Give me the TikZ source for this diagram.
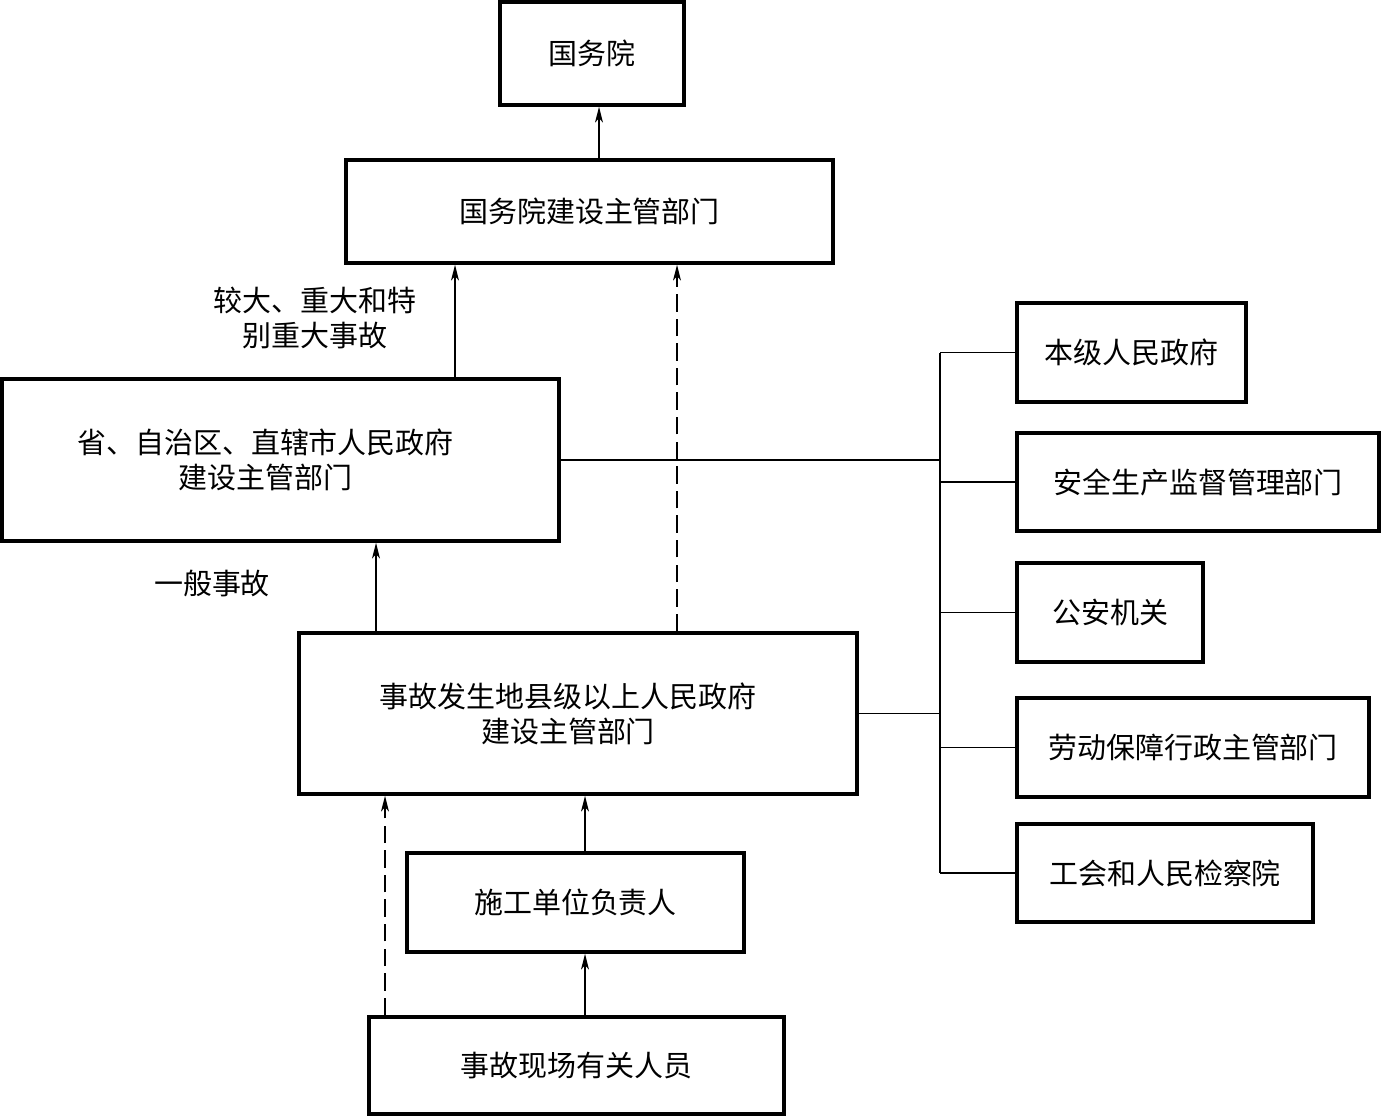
\documentclass[tikz,border=0pt]{standalone}
\usepackage{fontspec}
\setmainfont{Noto Sans CJK SC}
\usepackage{tikz}
\usetikzlibrary{arrows.meta}
\tikzset{
  box/.style={draw, line width=2pt, inner sep=0pt, align=center, font=\fontsize{16.5}{20}\selectfont},
  link/.style={line width=0.8pt},
  up/.style={link, -{Stealth[length=9pt,width=4.5pt,inset=2.5pt]}},
  updash/.style={up, dash pattern=on 10pt off 4pt},
  note/.style={align=center, font=\fontsize{16.5}{20}\selectfont},
}
\begin{document}
\begin{tikzpicture}[x=0.02cm, y=-0.02cm]
  \useasboundingbox (0,0) rectangle (1381,1117);
  % main chain
  \node[box, minimum width=3.68cm, minimum height=2.06cm] (gwy) at (592,53.5) {国务院};
  \node[box, minimum width=9.74cm, minimum height=2.06cm] (gwyjs) at (589.5,211.5) {国务院建设主管部门};
  \node[box, minimum width=11.14cm, minimum height=3.24cm] (sheng) at (280.5,460) {\hspace*{-0.6cm}省、自治区、直辖市人民政府\\\hspace*{-0.6cm}建设主管部门};
  \node[box, minimum width=11.16cm, minimum height=3.22cm] (shigu) at (578,713.5) {\hspace*{-0.4cm}事故发生地县级以上人民政府\\\hspace*{-0.4cm}建设主管部门};
  \node[box, minimum width=6.74cm, minimum height=1.98cm] (sg) at (575.5,902.5) {施工单位负责人};
  \node[box, minimum width=8.30cm, minimum height=1.94cm] (xianchang) at (576.5,1065.5) {事故现场有关人员};
  % notified departments
  \node[box, minimum width=4.58cm, minimum height=1.98cm] (r1) at (1131.5,352.5) {本级人民政府};
  \node[box, minimum width=7.24cm, minimum height=1.96cm] (r2) at (1198,482) {安全生产监督管理部门};
  \node[box, minimum width=3.72cm, minimum height=1.98cm] (r3) at (1110,612.5) {公安机关};
  \node[box, minimum width=7.04cm, minimum height=1.98cm] (r4) at (1193,747.5) {劳动保障行政主管部门};
  \node[box, minimum width=5.92cm, minimum height=1.96cm] (r5) at (1165,873) {工会和人民检察院};
  % labels
  \node[note] (big) at (315,318) {较大、重大和特\\别重大事故};
  \node[note] (gen) at (212,583) {一般事故};
  % x positions of the connectors
  \coordinate (pA) at (599,0);
  \coordinate (pB) at (455,0);
  \coordinate (pC) at (677,0);
  \coordinate (pD) at (376,0);
  \coordinate (pE) at (385,0);
  \coordinate (pF) at (585,0);
  \coordinate (bus) at (940,0);
  \draw[up] (pA |- gwyjs.north) -- (pA |- gwy.south);
  \draw[up] (pB |- sheng.north) -- (pB |- gwyjs.south);
  \draw[updash] (pC |- shigu.north) -- (pC |- gwyjs.south);
  \draw[up] (pD |- shigu.north) -- (pD |- sheng.south);
  \draw[updash] (pE |- xianchang.north) -- (pE |- shigu.south);
  \draw[up] (pF |- sg.north) -- (pF |- shigu.south);
  \draw[up] (pF |- xianchang.north) -- (pF |- sg.south);
  % bus to the right
  \draw[link] (bus |- r1.west) -- (bus |- r5.west);
  \draw[link] (sheng.east) -- (bus |- sheng.east);
  \draw[link] (shigu.east) -- (bus |- shigu.east);
  \foreach \r in {r1,r2,r3,r4,r5}
    \draw[link] (bus |- \r.west) -- (\r.west);
\end{tikzpicture}
\end{document}
